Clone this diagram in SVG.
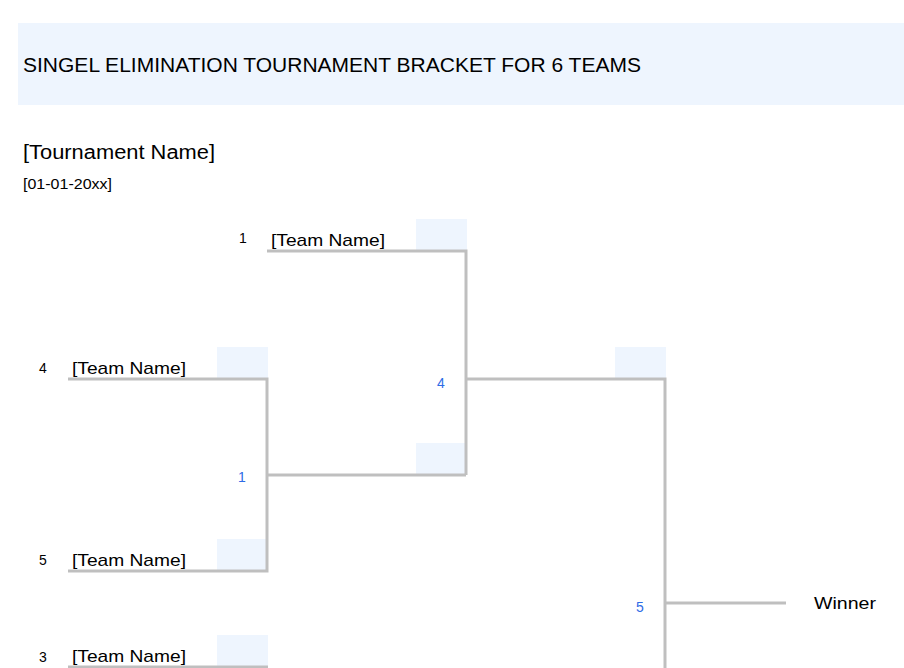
<svg xmlns="http://www.w3.org/2000/svg" width="904" height="668" viewBox="0 0 904 668">
<style>
.t{font-family:"Liberation Sans",Arial,sans-serif;fill:#000}
.team{font-size:17px}
.seed{font-size:14px}
.match{font-size:14px;fill:#2E6BE6}
.box{fill:#EEF5FE}
.ln{stroke:#BFBFBF;stroke-width:3;fill:none}
</style>
<rect x="0" y="0" width="904" height="668" fill="#fff"/>
<rect x="18" y="23" width="886" height="82" fill="#EEF5FE"/>
<text class="t" x="23" y="72" font-size="19.5" textLength="618" lengthAdjust="spacingAndGlyphs">SINGEL ELIMINATION TOURNAMENT BRACKET FOR 6 TEAMS</text>
<text class="t" x="23" y="159" font-size="19.5" textLength="192" lengthAdjust="spacingAndGlyphs">[Tournament Name]</text>
<text class="t" x="23" y="189" font-size="14" textLength="89" lengthAdjust="spacingAndGlyphs">[01-01-20xx]</text>

<g id="boxes">
<rect class="box" x="416" y="219" width="51" height="31"/>
<rect class="box" x="217" y="347" width="51" height="31"/>
<rect class="box" x="217" y="539" width="51" height="31"/>
<rect class="box" x="217" y="635" width="51" height="31"/>
<rect class="box" x="416" y="443" width="51" height="31"/>
<rect class="box" x="615" y="347" width="51" height="31"/>
</g>

<g id="connectors">
<path class="ln" d="M267 251H466V475"/>
<path class="ln" d="M68 379H267V571H68"/>
<path class="ln" d="M267 475H466"/>
<path class="ln" d="M466 379H665V668"/>
<path class="ln" d="M665 603H786"/>
<path class="ln" d="M68 667H268"/>
</g>

<g id="team1">
<text class="t seed" x="239" y="243" font-family="Liberation Mono">1</text>
<text class="t team" x="271" y="246" textLength="114" lengthAdjust="spacingAndGlyphs">[Team Name]</text>
</g>
<g id="team4">
<text class="t seed" x="39" y="373">4</text>
<text class="t team" x="72" y="374" textLength="114" lengthAdjust="spacingAndGlyphs">[Team Name]</text>
</g>
<g id="team5">
<text class="t seed" x="39" y="565">5</text>
<text class="t team" x="72" y="566" textLength="114" lengthAdjust="spacingAndGlyphs">[Team Name]</text>
</g>
<g id="team3">
<text class="t seed" x="39" y="662">3</text>
<text class="t team" x="72" y="662" textLength="114" lengthAdjust="spacingAndGlyphs">[Team Name]</text>
</g>
<g id="match1">
<text class="t match" x="238" y="482" font-family="Liberation Mono">1</text>
</g>
<g id="match4">
<text class="t match" x="437" y="388">4</text>
</g>
<g id="match5">
<text class="t match" x="636" y="612">5</text>
</g>
<g id="winner">
<text class="t team" x="814" y="609" textLength="62" lengthAdjust="spacingAndGlyphs">Winner</text>
</g>
</svg>
